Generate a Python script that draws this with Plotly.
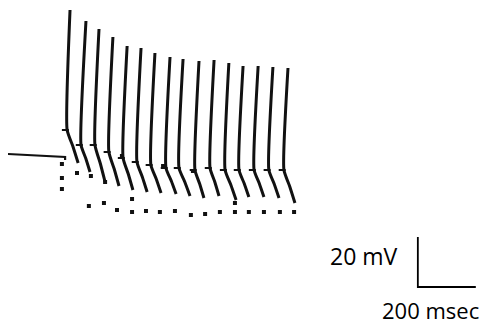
import plotly.graph_objects as go

# resting baseline before current injection (ms, mV)
base_t = [0, 60, 120, 197, 197]
base_v = [-59.6, -59.9, -60.2, -60.8, -62.0]

# spikes: peak, knee and end of repolarisation (ms, mV)
peak_t = [214, 269, 314, 362, 411, 459, 507, 559, 604, 659, 711, 762, 811, 863, 914, 966]
peak_v = [-2.0, -6.4, -9.6, -12.8, -16.4, -17.2, -19.2, -20.8, -21.6, -22.4, -22.0, -23.2, -24.4, -24.4, -24.8, -25.2]
knee_t = [204, 252, 300, 348, 397, 445, 493, 545, 590, 645, 697, 749, 797, 849, 900, 952]
knee_v = [-50.0, -56.0, -56.0, -58.8, -61.2, -62.8, -64.0, -65.2, -65.2, -66.0, -65.2, -66.0, -66.0, -66.0, -66.0, -66.0]
end_t = [242, 283, 335, 383, 431, 480, 528, 580, 628, 676, 728, 787, 831, 883, 935, 990]
end_v = [-63.2, -66.8, -70.8, -72.4, -74.0, -74.8, -75.2, -75.6, -76.4, -77.2, -76.4, -78.0, -76.8, -76.8, -77.2, -79.2]

# sampled points of the after-hyperpolarisation
ahp_t = [279, 331, 376, 428, 476, 524, 576, 631, 680, 731, 783, 831, 883, 938, 987]
ahp_v = [-80.4, -79.2, -82.0, -82.8, -82.4, -82.8, -82.4, -84.0, -83.6, -82.8, -82.8, -82.8, -82.8, -82.8, -82.8]

# other scattered samples
dot_t = [186, 186, 186, 238, 286, 335, 428, 783, 535, 638, 393]
dot_v = [-63.6, -69.2, -73.6, -67.2, -68.4, -70.8, -77.6, -79.2, -64.4, -66.4, -60.4]

# scale bar
bar_t0, bar_v0 = 1414, -112.8
bar_ms, bar_mv = 200, 20

ink = '#111111'
fig = go.Figure()

fig.add_trace(go.Scatter(x=base_t, y=base_v, mode='lines',
                         line=dict(color=ink, width=2.2)))

for i in range(len(peak_t)):
    mid_t = (knee_t[i] + end_t[i]) / 2 + 1
    mid_v = (knee_v[i] + end_v[i]) / 2
    fig.add_trace(go.Scatter(
        x=[peak_t[i], knee_t[i], mid_t, end_t[i]],
        y=[peak_v[i], knee_v[i], mid_v, end_v[i]],
        mode='lines', line=dict(color=ink, width=3, shape='spline', smoothing=0.5)))

fig.add_trace(go.Scatter(x=[t - 6 for t in knee_t], y=knee_v, mode='markers',
                         marker=dict(symbol='line-ew', size=5, line=dict(color=ink, width=2))))
fig.add_trace(go.Scatter(x=ahp_t, y=ahp_v, mode='markers',
                         marker=dict(color=ink, size=4, symbol='square')))
fig.add_trace(go.Scatter(x=dot_t, y=dot_v, mode='markers',
                         marker=dict(color=ink, size=4, symbol='square')))

fig.add_trace(go.Scatter(x=[bar_t0, bar_t0, bar_t0 + bar_ms],
                         y=[bar_v0 + bar_mv, bar_v0, bar_v0],
                         mode='lines', line=dict(color='black', width=1.8)))

fig.add_annotation(x=bar_t0 - 62, y=bar_v0 + bar_mv / 2 + 2.5, text=f'{bar_mv} mV',
                   xanchor='right', yanchor='middle', showarrow=False,
                   font=dict(family='Open Sans', size=23, color='black'))
fig.add_annotation(x=bar_t0 + bar_ms / 2 - 58, y=bar_v0 - 9, text=f'{bar_ms} msec',
                   xanchor='center', yanchor='middle', showarrow=False,
                   font=dict(family='Open Sans', size=22, color='black'))

# the page body adds 8 px on the top and left
fig.update_layout(width=481, height=320, margin=dict(l=0, r=0, t=0, b=0),
                  plot_bgcolor='white', paper_bgcolor='white', showlegend=False)
fig.update_xaxes(range=[0, 1659.5], visible=False)
fig.update_yaxes(range=[-129.2, -1.2], visible=False)

fig.write_html('out.html')
